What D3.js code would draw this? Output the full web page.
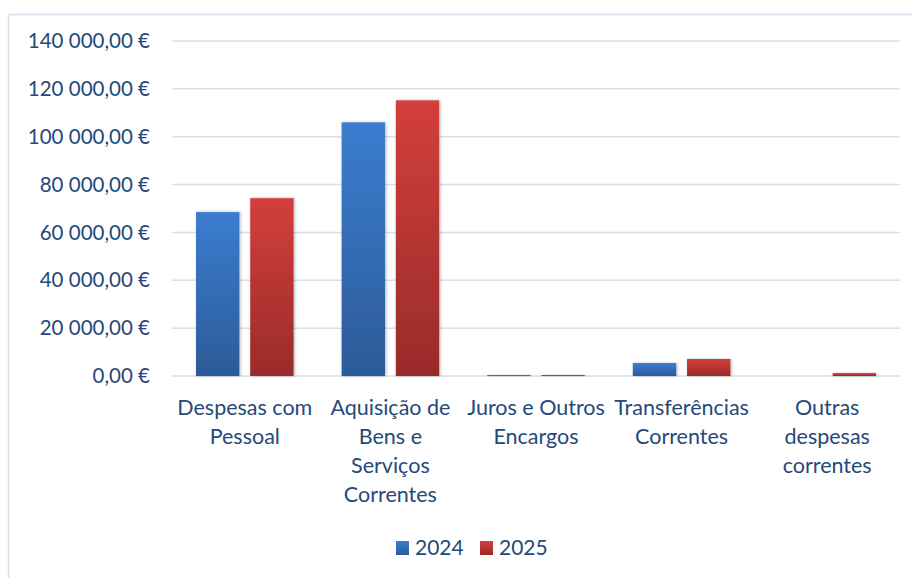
<!DOCTYPE html>
<html>
<head>
<meta charset="utf-8">
<script src="https://cdn.jsdelivr.net/npm/d3@7"></script>
<style>
  body { margin: 0; background: #fff; }
  svg { display: block; font-family: Lato, "Open Sans", sans-serif; }
</style>
</head>
<body>
<svg id="chart" width="912" height="578"></svg>
<script>
// data
var categories = ["Despesas com Pessoal", "Aquisição de Bens e Serviços Correntes", "Juros e Outros Encargos", "Transferências Correntes", "Outras despesas correntes"];
var categoryLines = [["Despesas com", "Pessoal"], ["Aquisição de", "Bens e", "Serviços", "Correntes"], ["Juros e Outros", "Encargos"], ["Transferências", "Correntes"], ["Outras", "despesas", "correntes"]];
var years = ["2024", "2025"];
var values2024 = [68500, 106000, 400, 5400, 0];
var values2025 = [74300, 115200, 400, 7100, 1200];
var yTicks = [0, 20000, 40000, 60000, 80000, 100000, 120000, 140000];

var series = [values2024, values2025];
var textColor = "#254979";

var svg = d3.select("#chart");
var margin = {left: 172, right: 12, top: 41, bottom: 202};
var width = 912 - margin.left - margin.right,
    height = 578 - margin.top - margin.bottom;

// outer frame
svg.append("rect")
    .attr("x", 8.5).attr("y", 14.5)
    .attr("width", 912).attr("height", 600)
    .attr("fill", "none")
    .attr("stroke", "#d5dfee")
    .attr("stroke-width", 1.5);

var defs = svg.append("defs");
var grads = [["#3b7dd0", "#2c5a98"], ["#d33f3c", "#992b29"]];
grads.forEach(function(g, i) {
  var lg = defs.append("linearGradient")
      .attr("id", "grad" + i)
      .attr("x1", 0).attr("y1", 0).attr("x2", 0).attr("y2", 1);
  lg.append("stop").attr("offset", "0%").attr("stop-color", g[0]);
  lg.append("stop").attr("offset", "100%").attr("stop-color", g[1]);
});
var filt = defs.append("filter").attr("id", "shadow")
    .attr("x", "-20%").attr("y", "-5%").attr("width", "140%").attr("height", "110%");
filt.append("feDropShadow")
    .attr("dx", 1).attr("dy", 0).attr("stdDeviation", 1.5)
    .attr("flood-color", "#000").attr("flood-opacity", 0.3);

var g = svg.append("g").attr("transform", "translate(" + margin.left + "," + margin.top + ")");

var y = d3.scaleLinear().domain([0, 140000]).range([height, 0]);
var x = d3.scaleBand().domain(categories).range([0, width]).paddingInner(0.33).paddingOuter(0.165);
var xs = d3.scaleBand().domain(years).range([0, x.bandwidth()]).paddingInner(0.2);

// gridlines
g.append("g")
  .selectAll("line")
  .data(yTicks)
  .join("line")
    .attr("x1", 0).attr("x2", width)
    .attr("y1", function(d) { return y(d); })
    .attr("y2", function(d) { return y(d); })
    .attr("stroke", "#d5dfee")
    .attr("stroke-width", 1.5);

// y labels
var fmt = function(v) {
  var s = d3.format(",.2f")(v);
  return s.replace(/,/g, " ").replace(".", ",") + " €";
};
g.append("g")
  .selectAll("text")
  .data(yTicks)
  .join("text")
    .attr("x", -22)
    .attr("y", function(d) { return y(d); })
    .attr("dy", "0.35em")
    .attr("text-anchor", "end")
    .attr("fill", textColor)
    .style("font-size", "20.5px")
    .text(fmt);

// bars
years.forEach(function(yr, si) {
  g.append("g")
    .selectAll("rect")
    .data(series[si])
    .join("rect")
      .attr("x", function(d, i) { return x(categories[i]) + xs(yr); })
      .attr("y", function(d) { return y(d); })
      .attr("width", xs.bandwidth())
      .attr("height", function(d) { return Math.max(0, y(0) - y(d)); })
      .attr("fill", "url(#grad" + si + ")")
      .attr("filter", "url(#shadow)");
});

// category labels
var lab = g.append("g")
  .selectAll("text")
  .data(categories)
  .join("text")
    .attr("x", function(d) { return x(d) + x.bandwidth() / 2; })
    .attr("y", height + 39)
    .attr("text-anchor", "middle")
    .attr("fill", textColor)
    .style("font-size", "21.5px");
lab.each(function(d, i) {
  d3.select(this).selectAll("tspan")
    .data(categoryLines[i])
    .join("tspan")
      .attr("x", x(d) + x.bandwidth() / 2)
      .attr("dy", function(t, j) { return j === 0 ? 0 : 29; })
      .text(function(t) { return t; });
});

// legend
var legend = svg.append("g").attr("transform", "translate(396,548)");
var legX = [0, 84];
years.forEach(function(yr, i) {
  legend.append("rect")
    .attr("x", legX[i]).attr("y", -7)
    .attr("width", 13).attr("height", 14)
    .attr("fill", "url(#grad" + i + ")");
  legend.append("text")
    .attr("x", legX[i] + 19).attr("y", 0)
    .attr("dy", "0.35em")
    .attr("fill", textColor)
    .style("font-size", "21px")
    .text(yr);
});
</script>
</body>
</html>
